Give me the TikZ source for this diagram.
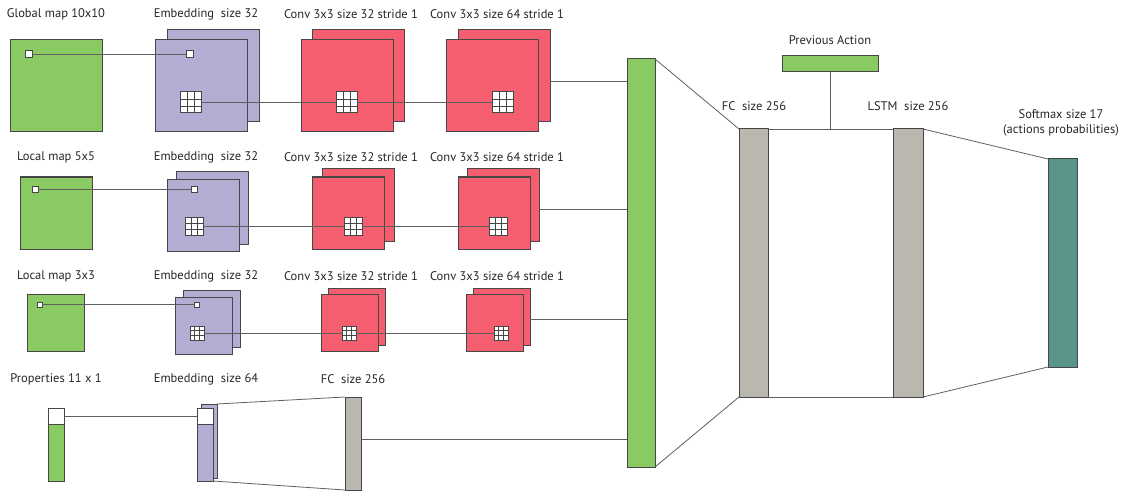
\documentclass[tikz,border=0pt]{standalone}
\usepackage{fontspec}
\setmainfont{PT Sans}
\usepackage{tikz}
\usetikzlibrary{calc}

\definecolor{mapgreen}{RGB}{137,202,98}
\definecolor{embpurple}{RGB}{179,172,211}
\definecolor{convred}{RGB}{245,94,110}
\definecolor{fcgrey}{RGB}{186,183,175}
\definecolor{outteal}{RGB}{90,148,137}
\definecolor{edgegrey}{RGB}{70,70,70}
\definecolor{wiregrey}{RGB}{95,95,95}

\tikzstyle{block} = [rectangle, draw=edgegrey, line width=1pt,
    inner sep=0pt, outer sep=0pt, anchor=north west]
\tikzstyle{mapbox} = [block, fill=mapgreen]
\tikzstyle{embbox} = [block, fill=embpurple]
\tikzstyle{convbox} = [block, fill=convred]
\tikzstyle{fcbox} = [block, fill=fcgrey]
\tikzstyle{outbox} = [block, fill=outteal]
\tikzstyle{cell} = [block, fill=white]
\tikzstyle{kernel} = [cell, path picture={
    \foreach \f in {1,2} {
      \draw [edgegrey, line width=0.7pt]
        ($(path picture bounding box.north west)!\f/3!(path picture bounding box.north east)$) --
        ($(path picture bounding box.south west)!\f/3!(path picture bounding box.south east)$);
      \draw [edgegrey, line width=0.7pt]
        ($(path picture bounding box.north west)!\f/3!(path picture bounding box.south west)$) --
        ($(path picture bounding box.north east)!\f/3!(path picture bounding box.south east)$);
    }}]
\tikzstyle{layertext} = [inner sep=0pt, text=black!85,
    font=\fontsize{12.5}{14.5}\selectfont]
\tikzstyle{line} = [draw=wiregrey, line width=0.8pt]

\begin{document}
\begin{tikzpicture}[x=1pt, y=-1pt]
    \useasboundingbox (0,0) rectangle (1122,492);

    % Nodes
    % global map row
    \node [layertext] (tglobal) at (56,14) {Global map 10x10};
    \node [layertext] (tgemb) at (206,14) {Embedding~~size 32};
    \node [layertext] (tgconv1) at (351,14) {Conv 3x3 size 32 stride 1};
    \node [layertext] (tgconv2) at (497,14) {Conv 3x3 size 64 stride 1};
    \node [mapbox, minimum width=92pt, minimum height=92pt] (gmap) at (10,40) {};
    \node [embbox, minimum width=92pt, minimum height=92pt] (gembb) at (167,30) {};
    \node [embbox, minimum width=92pt, minimum height=92pt] (gemb) at (155,40) {};
    \node [convbox, minimum width=92pt, minimum height=92pt] (gconv1b) at (312,30) {};
    \node [convbox, minimum width=92pt, minimum height=92pt] (gconv1) at (301,40) {};
    \node [convbox, minimum width=92pt, minimum height=92pt] (gconv2b) at (458,30) {};
    \node [convbox, minimum width=92pt, minimum height=92pt] (gconv2) at (446,40) {};
    \node [cell, minimum size=7pt] (gcell) at (25,51) {};
    \node [cell, minimum size=7pt] (gembcell) at (186,51) {};
    \node [kernel, minimum size=21pt] (gembk) at (180,92) {};
    \node [kernel, minimum size=21pt] (gconv1k) at (336,92) {};
    \node [kernel, minimum size=21pt] (gconv2k) at (492,92) {};

    % local map 5x5 row
    \node [layertext] (tlocal) at (56,157) {Local map 5x5};
    \node [layertext] (tlemb) at (206,157) {Embedding~~size 32};
    \node [layertext] (tlconv1) at (351,157) {Conv 3x3 size 32 stride 1};
    \node [layertext] (tlconv2) at (497,157) {Conv 3x3 size 64 stride 1};
    \node [mapbox, minimum width=72pt, minimum height=72pt] (lmap) at (20,177) {};
    \node [embbox, minimum width=72pt, minimum height=72pt] (lembb) at (176,172) {};
    \node [embbox, minimum width=72pt, minimum height=72pt] (lemb) at (167,179) {};
    \node [convbox, minimum width=72pt, minimum height=72pt] (lconv1b) at (322,169) {};
    \node [convbox, minimum width=72pt, minimum height=72pt] (lconv1) at (312,177) {};
    \node [convbox, minimum width=72pt, minimum height=72pt] (lconv2b) at (467,169) {};
    \node [convbox, minimum width=72pt, minimum height=72pt] (lconv2) at (458,177) {};
    \node [cell, minimum size=6pt] (lcell) at (32,186) {};
    \node [cell, minimum size=6pt] (lembcell) at (191,186) {};
    \node [kernel, minimum size=18pt] (lembk) at (185,217) {};
    \node [kernel, minimum size=18pt] (lconv1k) at (344,217) {};
    \node [kernel, minimum size=18pt] (lconv2k) at (489,217) {};

    % local map 3x3 row
    \node [layertext] (tsmall) at (56,276) {Local map 3x3};
    \node [layertext] (tsemb) at (206,276) {Embedding~~size 32};
    \node [layertext] (tsconv1) at (351,276) {Conv 3x3 size 32 stride 1};
    \node [layertext] (tsconv2) at (497,276) {Conv 3x3 size 64 stride 1};
    \node [mapbox, minimum width=57pt, minimum height=57pt] (smap) at (27,294) {};
    \node [embbox, minimum width=57pt, minimum height=57pt] (sembb) at (183,290) {};
    \node [embbox, minimum width=57pt, minimum height=57pt] (semb) at (175,297) {};
    \node [convbox, minimum width=57pt, minimum height=57pt] (sconv1b) at (328,288) {};
    \node [convbox, minimum width=57pt, minimum height=57pt] (sconv1) at (321,294) {};
    \node [convbox, minimum width=57pt, minimum height=57pt] (sconv2b) at (473,288) {};
    \node [convbox, minimum width=57pt, minimum height=57pt] (sconv2) at (466,294) {};
    \node [cell, minimum size=5pt] (scell) at (37,302) {};
    \node [cell, minimum size=5pt] (sembcell) at (194,302) {};
    \node [kernel, minimum size=14pt] (sembk) at (190,326) {};
    \node [kernel, minimum size=14pt] (sconv1k) at (342,326) {};
    \node [kernel, minimum size=14pt] (sconv2k) at (494,326) {};

    % properties row
    \node [layertext] (tprop) at (56,379) {Properties 11 x 1};
    \node [layertext] (tpemb) at (206,379) {Embedding~~size 64};
    \node [layertext] (tpfc) at (353,379) {FC~~size 256};
    \node [mapbox, minimum width=16pt, minimum height=57pt] (prop) at (48,424) {};
    \node [cell, minimum width=16pt, minimum height=16pt] (propcell) at (48,408) {};
    \node [embbox, minimum width=16pt, minimum height=74pt] (pembb) at (201,404) {};
    \node [embbox, minimum width=16pt, minimum height=73pt] (pemb) at (197,408) {};
    \node [cell, minimum width=16pt, minimum height=16pt] (pembcell) at (197,408) {};
    \node [fcbox, minimum width=16pt, minimum height=93pt] (pfc) at (345,397) {};

    % head
    \node [mapbox, minimum width=28pt, minimum height=408pt] (concat) at (627,59) {};
    \node [fcbox, minimum width=29pt, minimum height=268pt] (fc) at (739,129) {};
    \node [fcbox, minimum width=30pt, minimum height=268pt] (lstm) at (893,129) {};
    \node [outbox, minimum width=29pt, minimum height=208pt] (soft) at (1048,159) {};
    \node [mapbox, minimum width=96pt, minimum height=16pt] (prev) at (782,56) {};
    \node [layertext] (tfc) at (754,106) {FC~~size 256};
    \node [layertext] (tlstm) at (908,106) {LSTM~~size 256};
    \node [layertext] (tprev) at (830,40) {Previous Action};
    \node [layertext, align=center] (tsoft) at (1061,123) {Softmax size 17\\(actions probabilities)};

    % Edges
    \path [line] (gcell) -- (gembcell);
    \path [line] (gembk) -- (gconv1k);
    \path [line] (gconv1k) -- (gconv2k);
    \path [line] (lcell) -- (lembcell);
    \path [line] (lembk) -- (lconv1k);
    \path [line] (lconv1k) -- (lconv2k);
    \path [line] (scell) -- (sembcell);
    \path [line] (sembk) -- (sconv1k);
    \path [line] (sconv1k) -- (sconv2k);
    \path [line] (propcell) -- (pembcell);
    \path [line] (pembb.north east) -- (pfc.north west);
    \path [line] (pemb.south east) -- (pfc.south west);

    \coordinate (gout) at ($(gconv2b.east)+(0,5)$);
    \coordinate (lout) at ($(lconv2b.east)+(0,4)$);
    \coordinate (sout) at ($(sconv2b.east)+(0,2.5)$);
    \coordinate (pout) at ($(pfc.east)+(0,-4)$);
    \path [line] (gout) -- (gout -| concat.west);
    \path [line] (lout) -- (lout -| concat.west);
    \path [line] (sout) -- (sout -| concat.west);
    \path [line] (pout) -- (pout -| concat.west);

    \path [line] (concat.north east) -- (fc.north west);
    \path [line] (concat.south east) -- (fc.south west);
    \path [line] (fc.north east) -- (lstm.north west);
    \path [line] (fc.south east) -- (lstm.south west);
    \path [line] (prev.south) -- (prev.south |- fc.north);
    \path [line] (lstm.north east) -- (soft.north west);
    \path [line] (lstm.south east) -- (soft.south west);
\end{tikzpicture}
\end{document}
